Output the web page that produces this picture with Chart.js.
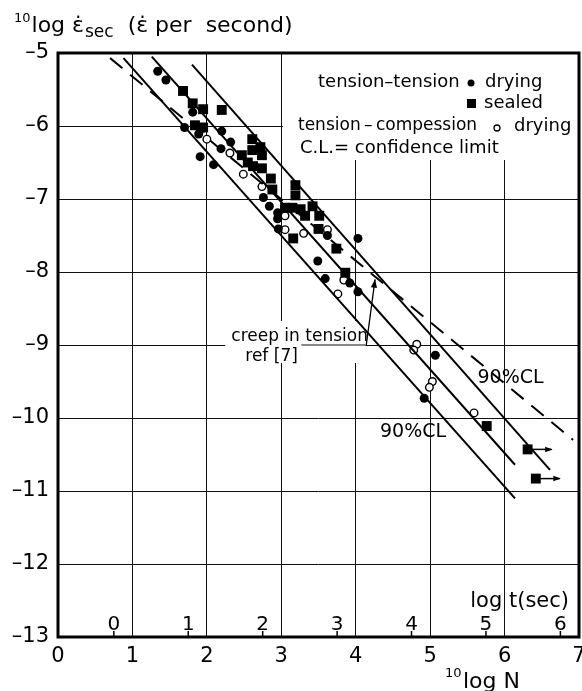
<!DOCTYPE html>
<html>
<head>
<meta charset="utf-8">
<title>Creep rate vs number of cycles</title>
<script src="https://cdn.jsdelivr.net/npm/chart.js@4.4.0/dist/chart.umd.min.js"></script>
<style>
  html, body { margin: 0; padding: 0; background: #fff; overflow: hidden; }
  #wrap { width: 600px; height: 691px; }
</style>
</head>
<body>
<div id="wrap"><canvas id="creep-chart" width="600" height="691"></canvas></div>
<script>
// 10log N on x, 10log of the secondary creep rate on y

// tension-tension, drying (filled circles)
var dryTTx = [1.34, 1.45, 1.81, 1.70, 1.89, 1.95, 1.91, 2.09, 2.19, 2.20, 2.32, 2.76,
              2.84, 2.95, 2.95, 2.96, 3.62, 4.03, 3.49, 3.59, 3.92, 4.03, 5.07, 4.92];
var dryTTy = [-5.25, -5.37, -5.81, -6.02, -6.11, -6.03, -6.42, -6.53, -6.31, -6.07, -6.22, -6.98,
              -7.10, -7.19, -7.27, -7.41, -7.50, -7.54, -7.85, -8.09, -8.15, -8.27, -9.14, -9.73];

// tension-tension, sealed (filled squares)
var sealedX = [1.68, 1.81, 1.95, 2.20, 1.84, 1.95, 2.61, 2.61, 2.72, 2.74, 2.47, 2.55, 2.62, 2.74,
               2.86, 2.88, 3.19, 3.19, 3.05, 3.15, 3.26, 3.42, 3.32, 3.51, 3.50, 3.16, 3.74, 3.86, 5.76];
var sealedY = [-5.52, -5.69, -5.77, -5.78, -5.99, -6.02, -6.18, -6.33, -6.29, -6.40, -6.40, -6.50, -6.55, -6.58,
               -6.72, -6.87, -6.81, -6.95, -7.12, -7.12, -7.14, -7.10, -7.23, -7.23, -7.41, -7.54, -7.68, -8.01, -10.11];

// sealed specimens that did not fail (run-out, drawn with an arrow)
var runoutX = [6.31, 6.42];
var runoutY = [-10.43, -10.83];

// tension-compression, drying (open circles)
var dryTCx = [2.00, 2.31, 2.49, 2.74, 3.05, 3.05, 3.30, 3.62, 3.84, 3.76, 4.82, 4.78, 5.03, 4.99, 5.59];
var dryTCy = [-6.18, -6.37, -6.66, -6.83, -7.23, -7.42, -7.47, -7.42, -8.11, -8.30, -8.99, -9.07, -9.50, -9.58, -9.93];

// fitted line and 90% confidence limits (end points)
var meanX = [1.26, 6.14];
var meanY = [-5.05, -10.64];
var upperCLx = [1.80, 6.61];
var upperCLy = [-5.16, -10.71];
var lowerCLx = [0.88, 6.14];
var lowerCLy = [-5.07, -11.10];

// creep in tension, ref [7] (dashed)
var creepX = [0.70, 6.92];
var creepY = [-5.07, -10.30];

// axes
var xTicks = [0, 1, 2, 3, 4, 5, 6, 7];
var yTicks = [-5, -6, -7, -8, -9, -10, -11, -12, -13];
var tTicks = [0, 1, 2, 3, 4, 5, 6];   // log t(sec)
var tOffset = 0.75;                     // log N - log t

var FONT = '"DejaVu Sans", sans-serif';

function pts(xs, ys) {
  return xs.map(function (x, i) { return { x: x, y: ys[i] }; });
}

function lineSet(label, xs, ys, dash) {
  return {
    type: 'line',
    label: label,
    data: pts(xs, ys),
    borderColor: '#000',
    borderWidth: 2,
    borderDash: dash || [],
    pointRadius: 0,
    fill: false,
    showLine: true
  };
}

function arrowHead(ctx, x1, y1, x2, y2, size) {
  var a = Math.atan2(y2 - y1, x2 - x1);
  ctx.beginPath();
  ctx.moveTo(x2, y2);
  ctx.lineTo(x2 - size * Math.cos(a - 0.35), y2 - size * Math.sin(a - 0.35));
  ctx.lineTo(x2 - size * Math.cos(a + 0.35), y2 - size * Math.sin(a + 0.35));
  ctx.closePath();
  ctx.fill();
}

var extras = {
  id: 'extras',
  beforeDatasetsDraw: function (chart) {
    var ctx = chart.ctx, a = chart.chartArea;
    var x = chart.scales.x, y = chart.scales.y;
    ctx.save();
    ctx.fillStyle = '#fff';
    // legend box
    ctx.fillRect(283, a.top, a.right - 283, 107);
    // label box for the dashed line
    ctx.fillRect(x.getPixelForValue(3) - 56, y.getPixelForValue(-9) - 24, 140, 42);
    ctx.strokeStyle = '#111';
    ctx.lineWidth = 1;
    ctx.beginPath();
    ctx.moveTo(x.getPixelForValue(3) + 20, y.getPixelForValue(-9));
    ctx.lineTo(x.getPixelForValue(3) + 84, y.getPixelForValue(-9));
    ctx.stroke();
    ctx.restore();
  },
  afterDraw: function (chart) {
    var ctx = chart.ctx, a = chart.chartArea;
    var x = chart.scales.x, y = chart.scales.y, x2 = chart.scales.x2;
    ctx.save();
    ctx.fillStyle = '#000';
    ctx.strokeStyle = '#000';

    // frame
    ctx.lineWidth = 3;
    ctx.strokeRect(a.left, a.top, a.right - a.left, a.bottom - a.top);

    // y title
    ctx.textAlign = 'left';
    ctx.textBaseline = 'alphabetic';
    var tx = 14, base = 32;
    ctx.font = '13px ' + FONT;
    ctx.fillText('10', tx, base - 10);
    tx += ctx.measureText('10').width + 1;
    ctx.font = '22px ' + FONT;
    ctx.fillText('log ε̇', tx, base);
    tx += ctx.measureText('log ε̇').width + 1;
    ctx.font = '17px ' + FONT;
    ctx.fillText('sec', tx, base + 5);
    tx += ctx.measureText('sec').width + 14;
    ctx.font = '22px ' + FONT;
    ctx.fillText('(ε̇ per  second)', tx, base);

    // x title
    ctx.font = '13px ' + FONT;
    ctx.fillText('10', 445, 677);
    ctx.font = '22px ' + FONT;
    ctx.fillText('log N', 463, 688);

    // log t(sec) scale inside the bottom of the plot
    ctx.lineWidth = 1.5;
    ctx.textAlign = 'center';
    ctx.font = '20px ' + FONT;
    tTicks.forEach(function (t) {
      var px = x2.getPixelForValue(t);
      ctx.beginPath();
      ctx.moveTo(px, a.bottom);
      ctx.lineTo(px, a.bottom - 6);
      ctx.stroke();
      ctx.fillText(String(t), px, a.bottom - 7);
    });
    ctx.textAlign = 'right';
    ctx.font = '21px ' + FONT;
    ctx.fillText('log t(sec)', a.right - 10, a.bottom - 30);

    // legend
    ctx.textAlign = 'left';
    ctx.font = '18px ' + FONT;
    ctx.textBaseline = 'middle';
    ctx.fillText('tension–tension', 318, 82);
    ctx.beginPath(); ctx.arc(471, 83, 3.5, 0, Math.PI * 2); ctx.fill();
    ctx.fillText('drying', 485, 82);
    ctx.fillRect(467, 99, 9, 9);
    ctx.fillText('sealed', 484, 103);
    ctx.font = '17px ' + FONT;
    ctx.fillText('tension\u2009–\u2009compession', 298, 126);
    ctx.lineWidth = 1.3;
    ctx.beginPath(); ctx.arc(497, 128, 3, 0, Math.PI * 2); ctx.stroke();
    ctx.font = '18px ' + FONT;
    ctx.fillText('drying', 514, 126);
    ctx.fillText('C.L.= confidence limit', 300, 148);

    // confidence limit labels
    ctx.textAlign = 'center';
    ctx.font = '19px ' + FONT;
    ctx.fillText('90%CL', x.getPixelForValue(6.08), y.getPixelForValue(-9.45));
    ctx.fillText('90%CL', x.getPixelForValue(4.77), y.getPixelForValue(-10.19));

    // creep in tension label with arrow
    ctx.textAlign = 'left';
    ctx.textBaseline = 'alphabetic';
    ctx.font = '17px ' + FONT;
    var lx = x.getPixelForValue(3) - 50, ly = y.getPixelForValue(-9);
    ctx.fillText('creep in tension', lx, ly - 4);
    ctx.fillText('ref [7]', lx + 14, ly + 16);
    var bx = x.getPixelForValue(3) + 85, by = ly;
    var hx = x.getPixelForValue(4.26), hy = y.getPixelForValue(-8.10);
    ctx.lineWidth = 1.3;
    ctx.beginPath();
    ctx.moveTo(bx, by);
    ctx.lineTo(hx, hy);
    ctx.stroke();
    arrowHead(ctx, bx, by, hx, hy, 9);

    // run-out arrows
    ctx.lineWidth = 1.5;
    runoutX.forEach(function (v, i) {
      var px = x.getPixelForValue(v), py = y.getPixelForValue(runoutY[i]);
      ctx.beginPath();
      ctx.moveTo(px + 4, py);
      ctx.lineTo(px + 24, py);
      ctx.stroke();
      arrowHead(ctx, px + 4, py, px + 25, py, 8);
    });
    ctx.restore();
  }
};

var ctx = document.getElementById('creep-chart').getContext('2d');
var chart = new Chart(ctx, {
  type: 'scatter',
  data: {
    datasets: [
      lineSet('90% CL upper', upperCLx, upperCLy),
      lineSet('mean', meanX, meanY),
      lineSet('90% CL lower', lowerCLx, lowerCLy),
      lineSet('creep in tension ref [7]', creepX, creepY, [16, 10]),
      {
        label: 'tension-tension drying',
        data: pts(dryTTx, dryTTy),
        pointStyle: 'circle',
        pointRadius: 4.5,
        backgroundColor: '#000',
        borderColor: '#000',
        borderWidth: 0
      },
      {
        label: 'tension-tension sealed',
        data: pts(sealedX, sealedY).concat(pts(runoutX, runoutY)),
        pointStyle: 'rect',
        pointRadius: 7,
        backgroundColor: '#000',
        borderColor: '#000',
        borderWidth: 0
      },
      {
        label: 'tension-compression drying',
        data: pts(dryTCx, dryTCy),
        pointStyle: 'circle',
        pointRadius: 3.8,
        backgroundColor: '#fff',
        borderColor: '#000',
        borderWidth: 1.4
      }
    ]
  },
  options: {
    responsive: false,
    animation: false,
    layout: { padding: { top: 53, right: 21, bottom: 0, left: 0 } },
    plugins: {
      legend: { display: false },
      tooltip: { enabled: false }
    },
    scales: {
      x: {
        type: 'linear',
        position: 'bottom',
        min: xTicks[0],
        max: xTicks[xTicks.length - 1],
        afterBuildTicks: function (s) { s.ticks = xTicks.map(function (v) { return { value: v }; }); },
        afterFit: function (s) { s.height = 54; },
        border: { display: false },
        grid: { color: '#111', lineWidth: 1, drawTicks: false },
        ticks: {
          color: '#000',
          padding: 7,
          maxRotation: 0,
          font: { family: FONT, size: 21 }
        }
      },
      x2: {
        type: 'linear',
        position: 'bottom',
        display: false,
        min: xTicks[0] - tOffset,
        max: xTicks[xTicks.length - 1] - tOffset
      },
      y: {
        type: 'linear',
        min: yTicks[yTicks.length - 1],
        max: yTicks[0],
        afterBuildTicks: function (s) { s.ticks = yTicks.map(function (v) { return { value: v }; }); },
        afterFit: function (s) { s.width = 58; },
        border: { display: false },
        grid: { color: '#111', lineWidth: 1, drawTicks: false },
        ticks: {
          color: '#000',
          padding: 9,
          font: { family: FONT, size: 21 },
          callback: function (v) { return '–' + Math.abs(v); }
        }
      }
    }
  },
  plugins: [extras]
});
</script>
</body>
</html>
